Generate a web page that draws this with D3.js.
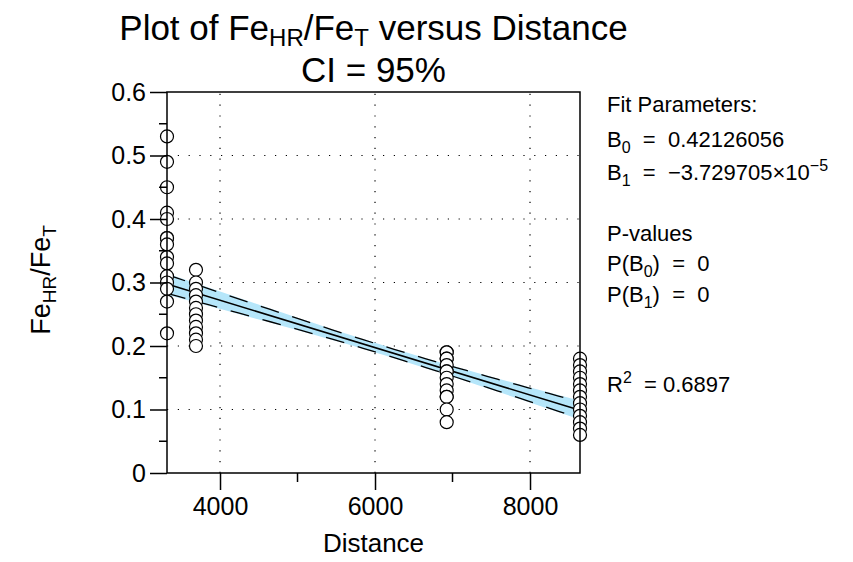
<!DOCTYPE html>
<meta charset="utf-8">
<head>
  <style>
    html, body { margin: 0; padding: 0; background: #fff; }
    text { font-family: "Liberation Sans", Arial, sans-serif; fill: #000; white-space: pre; }
  </style>
</head>
<script src="https://cdn.jsdelivr.net/npm/d3@7"></script>
<body>
<script>
  // distances of the four sampling sites, and the ratios read at each one
  var distances = [3316, 3690, 6925, 8645];
  var ratiosSite1 = [0.53, 0.49, 0.45, 0.41, 0.40, 0.37, 0.37, 0.36, 0.34, 0.33, 0.31, 0.30, 0.29, 0.27, 0.22];
  var ratiosSite2 = [0.32, 0.30, 0.29, 0.28, 0.27, 0.26, 0.25, 0.24, 0.23, 0.22, 0.21, 0.20];
  var ratiosSite3 = [0.19, 0.19, 0.18, 0.18, 0.17, 0.16, 0.16, 0.15, 0.14, 0.13, 0.12, 0.12, 0.10, 0.08];
  var ratiosSite4 = [0.18, 0.17, 0.16, 0.15, 0.14, 0.13, 0.12, 0.11, 0.10, 0.09, 0.08, 0.07, 0.06];

  // fit parameters (from the legend) and the CI band:
  // narrowest half-width, where it is narrowest, and half-width at the left end
  var b0 = 0.42126056, b1 = -3.729705e-5;
  var ciCentre = 6200, ciHalfMin = 0.0075, ciHalfLeft = 0.0168;

  var xTicks = [4000, 6000, 8000];
  var xMinor = [5000, 7000];
  var yTicks = [0, 0.1, 0.2, 0.3, 0.4, 0.5, 0.6];
  var yMinor = [0.05, 0.15, 0.25, 0.35, 0.45, 0.55];

  var W = 853, H = 562;
  var plotL = 167, plotR = 580, plotT = 92, plotB = 473;

  var points = [];
  [ratiosSite1, ratiosSite2, ratiosSite3, ratiosSite4].forEach(function(arr, i) {
    arr.forEach(function(v) { points.push({x: distances[i], y: v}); });
  });

  var x = d3.scaleLinear().domain(d3.extent(distances)).range([plotL, plotR]);
  var y = d3.scaleLinear().domain([0, 0.6]).range([plotB, plotT]);

  // hyperbolic confidence band around the fitted line
  var dl = distances[0] - ciCentre;
  var kk = (ciHalfLeft * ciHalfLeft - ciHalfMin * ciHalfMin) / (dl * dl);
  function half(xv) { return Math.sqrt(ciHalfMin * ciHalfMin + kk * (xv - ciCentre) * (xv - ciCentre)); }
  function fit(xv) { return b0 + b1 * xv; }
  var xs = d3.range(0, 41).map(function(i) { return x.domain()[0] + i * (x.domain()[1] - x.domain()[0]) / 40; });

  var svg = d3.select("body").append("svg").attr("width", W).attr("height", H);

  // dotted grid
  var grid = svg.append("g").attr("stroke", "#000").attr("stroke-width", 1.2).attr("stroke-dasharray", "1.2,9.6");
  grid.selectAll(".gx").data(xTicks).enter().append("line")
    .attr("x1", function(d) { return x(d); }).attr("x2", function(d) { return x(d); })
    .attr("y1", plotB).attr("y2", plotT);
  grid.selectAll(".gy").data(yTicks.slice(1, -1)).enter().append("line")
    .attr("y1", function(d) { return y(d); }).attr("y2", function(d) { return y(d); })
    .attr("x1", plotL).attr("x2", plotR);

  svg.append("path")
    .datum(xs)
    .attr("fill", "#b5e6fa")
    .attr("d", d3.area()
      .x(function(d) { return x(d); })
      .y0(function(d) { return y(fit(d) - half(d)); })
      .y1(function(d) { return y(fit(d) + half(d)); }));

  [-0.88, 0.88].forEach(function(k) {
    svg.append("path").datum(xs)
      .attr("fill", "none").attr("stroke", "#000").attr("stroke-width", 1.3)
      .attr("stroke-dasharray", "19,14")
      .attr("d", d3.line().x(function(d) { return x(d); })
        .y(function(d) { return y(fit(d) + k * half(d)); }));
  });

  svg.append("line")
    .attr("x1", x(x.domain()[0])).attr("y1", y(fit(x.domain()[0])))
    .attr("x2", x(x.domain()[1])).attr("y2", y(fit(x.domain()[1])))
    .attr("stroke", "#000").attr("stroke-width", 1.5);

  svg.selectAll("circle").data(points).enter().append("circle")
    .attr("cx", function(d) { return x(d.x); })
    .attr("cy", function(d) { return y(d.y); })
    .attr("r", 6.5)
    .attr("fill", "#fff").attr("stroke", "#000").attr("stroke-width", 1.2);

  // frame and axes
  var ax = svg.append("g").attr("stroke", "#000").attr("stroke-width", 1.5).attr("fill", "none");
  ax.append("path").attr("d", "M" + plotL + "," + plotT + "H" + plotR + "V" + plotB + "H" + plotL + "Z");

  var xAxis = d3.axisBottom(x).tickValues(xTicks).tickSize(17).tickSizeOuter(0).tickPadding(7)
    .tickFormat(d3.format("d"));
  var gx = svg.append("g").attr("transform", "translate(0," + plotB + ")").call(xAxis);
  gx.select(".domain").remove();
  gx.selectAll("line").attr("stroke-width", 1.5);
  gx.selectAll("text").attr("font-size", 25).attr("font-family", "Liberation Sans, Arial, sans-serif");
  svg.append("g").selectAll("line").data(xMinor).enter().append("line")
    .attr("x1", function(d) { return x(d); }).attr("x2", function(d) { return x(d); })
    .attr("y1", plotB).attr("y2", plotB + 9)
    .attr("stroke", "#000").attr("stroke-width", 1.5);

  var yAxis = d3.axisLeft(y).tickValues(yTicks).tickSize(17).tickSizeOuter(0).tickPadding(4)
    .tickFormat(function(d) { return d === 0 ? "0" : d3.format(".1f")(d); });
  var gy = svg.append("g").attr("transform", "translate(" + plotL + ",0)").call(yAxis);
  gy.select(".domain").remove();
  gy.selectAll("line").attr("stroke-width", 1.5);
  gy.selectAll("text").attr("font-size", 25).attr("font-family", "Liberation Sans, Arial, sans-serif");
  svg.append("g").selectAll("line").data(yMinor).enter().append("line")
    .attr("y1", function(d) { return y(d); }).attr("y2", function(d) { return y(d); })
    .attr("x1", plotL - 8).attr("x2", plotL)
    .attr("stroke", "#000").attr("stroke-width", 1.5);

  // titles
  var t1 = svg.append("text").attr("x", (plotL + plotR) / 2).attr("y", 40)
    .attr("text-anchor", "middle").attr("font-size", 35);
  t1.append("tspan").text("Plot of Fe");
  t1.append("tspan").attr("font-size", 24).attr("dy", 6).text("HR");
  t1.append("tspan").attr("dy", -6).text("/Fe");
  t1.append("tspan").attr("font-size", 24).attr("dy", 6).text("T");
  t1.append("tspan").attr("dy", -6).text(" versus Distance");
  svg.append("text").attr("x", (plotL + plotR) / 2).attr("y", 82)
    .attr("text-anchor", "middle").attr("font-size", 35).text("CI = 95%");

  svg.append("text").attr("x", (plotL + plotR) / 2).attr("y", 552)
    .attr("text-anchor", "middle").attr("font-size", 26).text("Distance");

  var yl = svg.append("text").attr("transform", "translate(50,280) rotate(-90)")
    .attr("text-anchor", "middle").attr("font-size", 27);
  yl.append("tspan").text("Fe");
  yl.append("tspan").attr("font-size", 19).attr("dy", 6).text("HR");
  yl.append("tspan").attr("dy", -6).text("/Fe");
  yl.append("tspan").attr("font-size", 19).attr("dy", 6).text("T");

  // fit summary
  var info = svg.append("g").attr("font-size", 22);
  function line(yy, parts) {
    var t = info.append("text").attr("x", 607).attr("y", yy);
    parts.forEach(function(p) {
      var sp = t.append("tspan").text(p[0]);
      if (p[1] === "sub") sp.attr("font-size", 16).attr("dy", 6);
      if (p[1] === "sup") sp.attr("font-size", 16).attr("dy", -9);
      if (p[1] === "back") sp.attr("dy", -6);
      if (p[1] === "down") sp.attr("dy", 9);
    });
  }
  line(112, [["Fit Parameters:"]]);
  line(147, [["B"], ["0", "sub"], ["  =  0.42126056", "back"]]);
  line(180, [["B"], ["1", "sub"], ["  =  \u22123.729705\u00d710", "back"], ["\u22125", "sup"]]);
  line(241, [["P-values"]]);
  line(271, [["P(B"], ["0", "sub"], [")  =  0", "back"]]);
  line(302, [["P(B"], ["1", "sub"], [")  =  0", "back"]]);
  line(392, [["R"], ["2", "sup"], ["  = 0.6897", "down"]]);
</script>
</body>
